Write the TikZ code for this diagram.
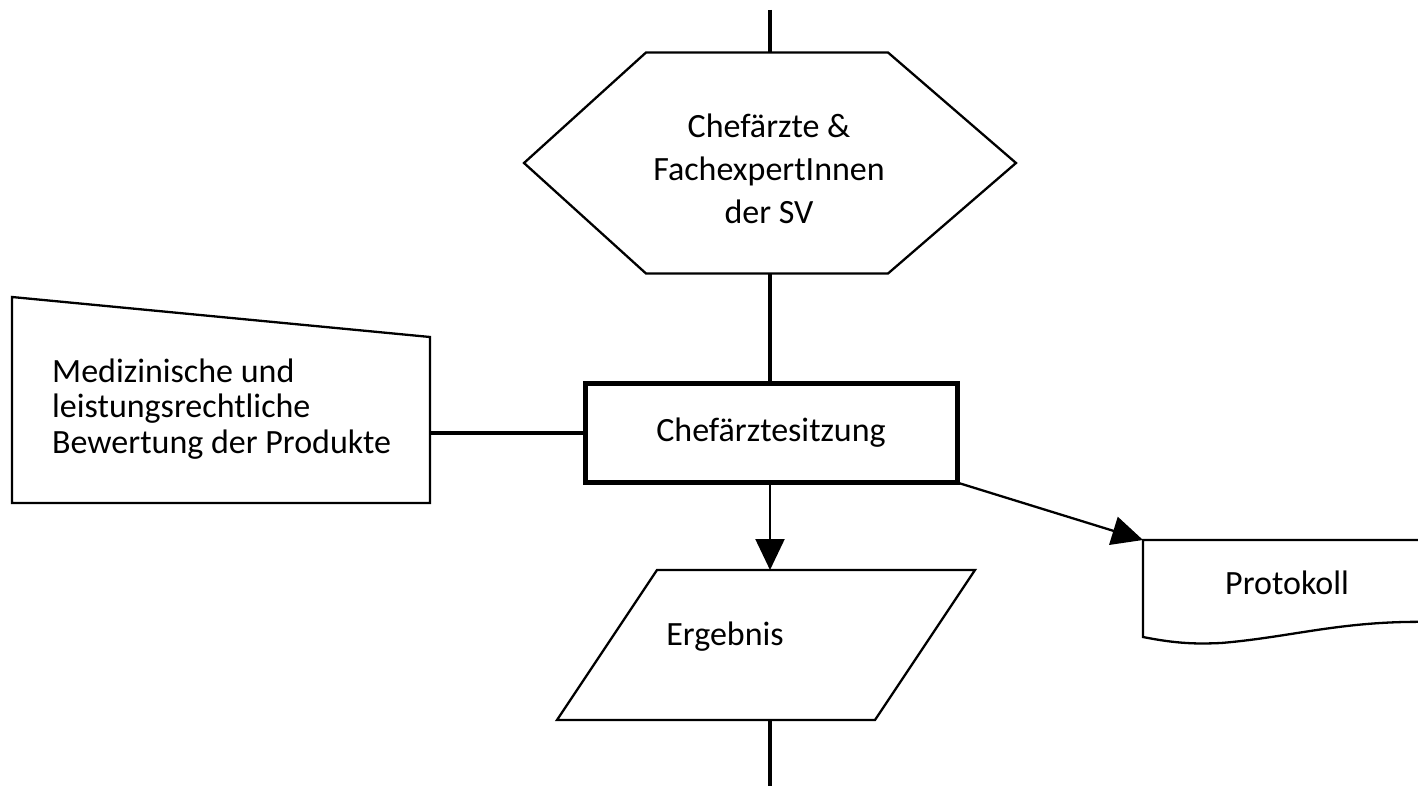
\documentclass[tikz,border=0pt]{standalone}
\usepackage{fontspec}
\setmainfont{Carlito}
\usetikzlibrary{arrows.meta,calc}

\begin{document}
\begin{tikzpicture}[x=1pt,y=-1pt,
  area/.style={inner sep=0pt, outer sep=0pt},
  outline/.style={line width=2.3pt, line join=miter},
  conn/.style={line width=4.5pt},
  arr/.style={line width=2.3pt, -{Triangle[length=31pt,width=29pt]}},
  lbl/.style={font=\fontsize{34}{43}\selectfont, text=black}]

\useasboundingbox (0,0) rectangle (1418,786);

% hexagon: preparation
\node[area, minimum width=492pt, minimum height=221pt] (hex) at (770,163) {};
\draw[outline] (hex.west) -- ($(hex.north west)+(122,0)$) -- ($(hex.north east)+(-128,0)$)
  -- (hex.east) -- ($(hex.south east)+(-128,0)$) -- ($(hex.south west)+(122,0)$) -- cycle;
\node[lbl, align=center, inner sep=0pt] (hextext) at (769,169)
  {Chefärzte \&\\FachexpertInnen\\der SV};

% process box
\node[area, lbl, draw, line width=5pt, minimum width=372pt, minimum height=99pt] (sitz) at (771,433)
  {\raisebox{6pt}{Chefärztesitzung}};

% manual input
\node[area, minimum width=418pt, minimum height=206pt] (med) at (221,400) {};
\draw[outline] (med.south west) -- (med.north west) -- ($(med.north east)+(0,40)$)
  -- (med.south east) -- cycle;
\node[lbl, font=\fontsize{34}{35.5}\selectfont, align=left, anchor=west, inner sep=0pt] (medtext) at (52,409)
  {Medizinische und\\leistungsrechtliche\\Bewertung der Produkte};

% data (parallelogram)
\node[area, minimum width=418pt, minimum height=150pt] (erg) at (766,645) {};
\draw[outline] ($(erg.north west)+(100,0)$) -- (erg.north east) -- ($(erg.south east)+(-100,0)$)
  -- (erg.south west) -- cycle;
\node[lbl, inner sep=0pt] (ergtext) at (725,637) {Ergebnis};

% document
\node[area, minimum width=300pt, minimum height=100pt, anchor=north west] (prot) at (1143,540) {};
\draw[outline] (prot.north east) -- (prot.north west) -- ($(prot.north west)+(0,97)$)
  .. controls ($(prot.north west)+(35,104)$) and ($(prot.north west)+(55,104)$) .. ($(prot.north west)+(78,103)$)
  .. controls ($(prot.north west)+(150,97)$) and ($(prot.north west)+(200,80)$) .. ($(prot.north west)+(290,82)$);
\node[lbl, inner sep=0pt] (prottext) at (1287,583) {Protokoll};

% connectors
\coordinate (top) at (770,10);
\coordinate (bottom) at (770,790);
\draw[conn] (top) -- (hex.north);
\draw[conn] (hex.south) -- (hex.south |- sitz.north);
\draw[conn] (med.east |- sitz.west) -- (sitz.west);
\draw[arr] (hex.south |- sitz.south) -- (hex.south |- erg.north);
\draw[conn] (hex.south |- erg.south) -- (bottom);
\draw[arr] (sitz.south east) -- (prot.north west);
\end{tikzpicture}
\end{document}
